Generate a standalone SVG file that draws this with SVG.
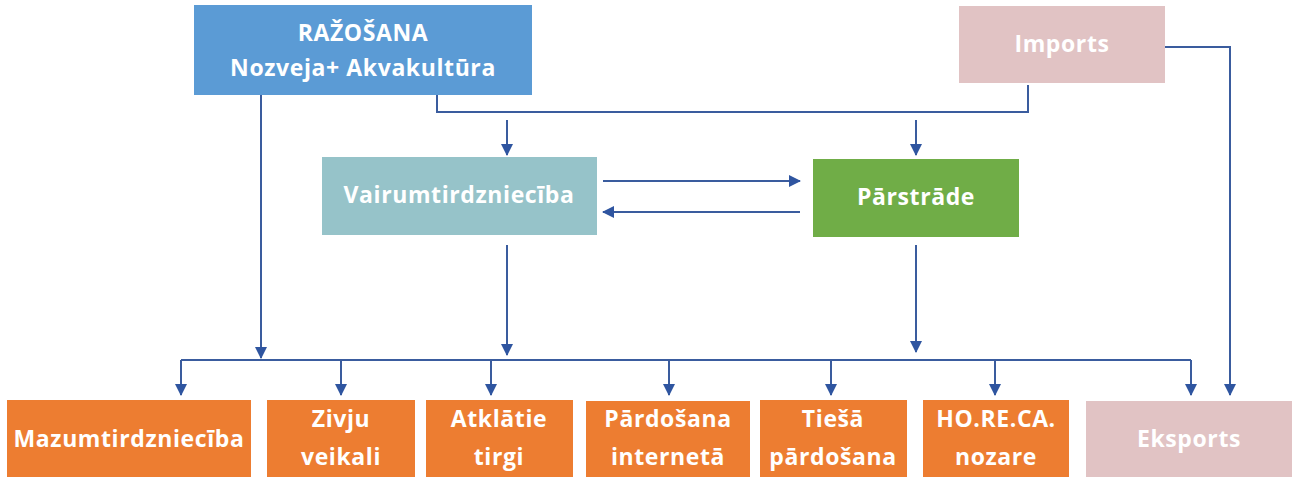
<svg xmlns="http://www.w3.org/2000/svg" width="1293" height="477" viewBox="0 0 1293 477">
<style>
.t{font-family:"Open Sans","Liberation Sans",sans-serif;font-weight:bold;font-size:23px;letter-spacing:0.6px;fill:#fff;text-anchor:middle;dominant-baseline:central}
.c{fill:none;stroke:#3A5C9E;stroke-width:2}
</style>
<defs>
<marker id="a" viewBox="0 0 12 12" refX="11" refY="6" markerWidth="12" markerHeight="13" markerUnits="userSpaceOnUse" orient="auto">
<path d="M0,0 L12,6 L0,12 Z" fill="#2F55A0"/>
</marker>
</defs>
<rect width="1293" height="477" fill="#fff"/>
<g id="connectors">
<path class="c" d="M437,95 V112 H1028 V85"/>
<path class="c" d="M507,120 V155" marker-end="url(#a)"/>
<path class="c" d="M916,120 V155" marker-end="url(#a)"/>
<path class="c" d="M1165,47 H1230 V395" marker-end="url(#a)"/>
<path class="c" d="M603,181 H800" marker-end="url(#a)"/>
<path class="c" d="M800,212 H603" marker-end="url(#a)"/>
<path class="c" d="M261,95 V358" marker-end="url(#a)"/>
<path class="c" d="M507,245 V355" marker-end="url(#a)"/>
<path class="c" d="M916,245 V352" marker-end="url(#a)"/>
<path class="c" d="M181,360 H1191"/>
<path class="c" d="M181,360 V395" marker-end="url(#a)"/>
<path class="c" d="M341,360 V395" marker-end="url(#a)"/>
<path class="c" d="M491,360 V395" marker-end="url(#a)"/>
<path class="c" d="M669,360 V395" marker-end="url(#a)"/>
<path class="c" d="M831,360 V395" marker-end="url(#a)"/>
<path class="c" d="M995,360 V395" marker-end="url(#a)"/>
<path class="c" d="M1191,360 V395" marker-end="url(#a)"/>
</g>
<g id="razosana"><rect x="194" y="5" width="338" height="90" fill="#5B9BD5"/><text class="t" x="363" y="32">RAŽOŠANA</text><text class="t" x="363" y="67">Nozveja+ Akvakultūra</text></g>
<g id="imports"><rect x="959" y="6" width="206" height="77" fill="#E1C3C4"/><text class="t" x="1062" y="43">Imports</text></g>
<g id="vairum"><rect x="322" y="157" width="275" height="78" fill="#96C3C9"/><text class="t" x="459" y="194">Vairumtirdzniecība</text></g>
<g id="parstrade"><rect x="813" y="159" width="206" height="78" fill="#70AD47"/><text class="t" x="916" y="196">Pārstrāde</text></g>
<g id="mazum"><rect x="7" y="400" width="244" height="77" fill="#ED7D31"/><text class="t" x="129" y="438">Mazumtirdzniecība</text></g>
<g id="zivju"><rect x="267" y="400" width="148" height="77" fill="#ED7D31"/><text class="t" x="341" y="418">Zivju</text><text class="t" x="341" y="456">veikali</text></g>
<g id="atklatie"><rect x="426" y="400" width="147" height="77" fill="#ED7D31"/><text class="t" x="499" y="418">Atklātie</text><text class="t" x="499" y="456">tirgi</text></g>
<g id="pardosana"><rect x="586" y="401" width="164" height="76" fill="#ED7D31"/><text class="t" x="668" y="418">Pārdošana</text><text class="t" x="668" y="456">internetā</text></g>
<g id="tiesa"><rect x="760" y="400" width="147" height="77" fill="#ED7D31"/><text class="t" x="833" y="418">Tiešā</text><text class="t" x="833" y="456">pārdošana</text></g>
<g id="horeca"><rect x="923" y="400" width="146" height="77" fill="#ED7D31"/><text class="t" x="996" y="418">HO.RE.CA.</text><text class="t" x="996" y="456">nozare</text></g>
<g id="eksports"><rect x="1086" y="401" width="206" height="76" fill="#E1C3C4"/><text class="t" x="1189" y="438">Eksports</text></g>
</svg>
